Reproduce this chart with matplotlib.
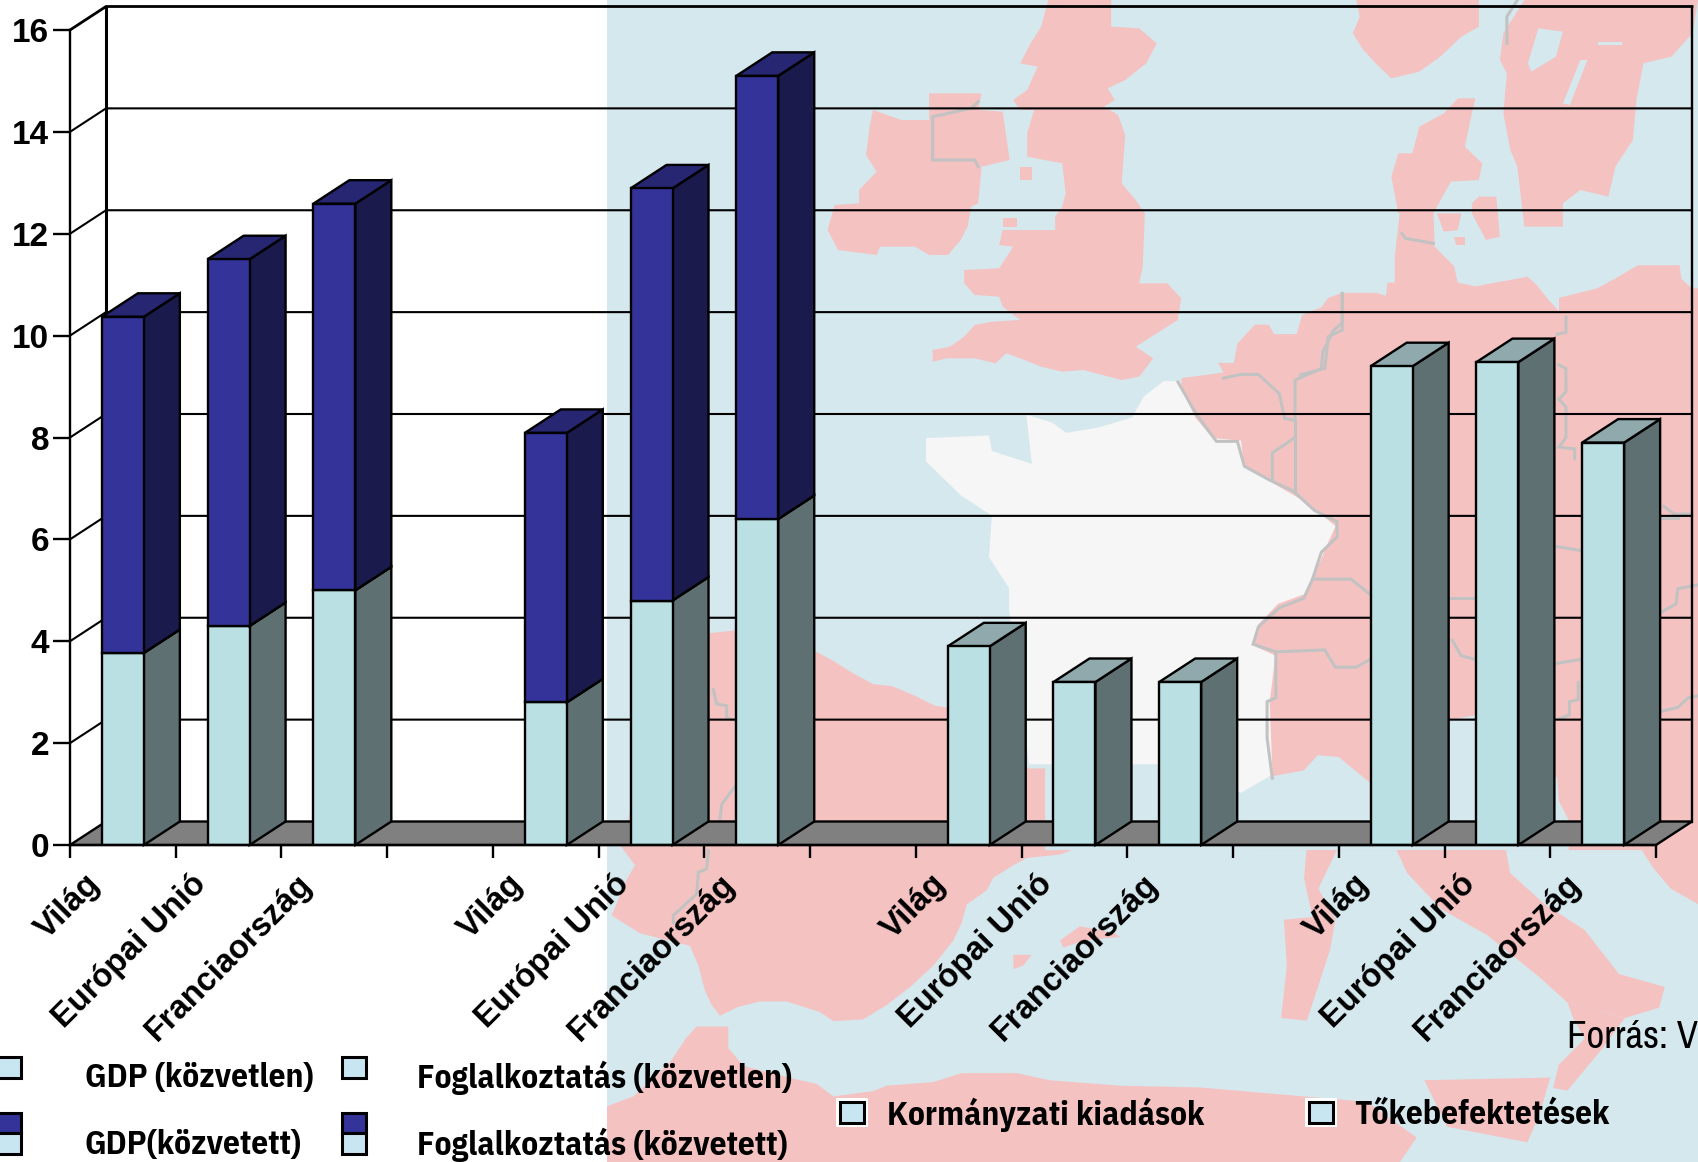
import matplotlib
matplotlib.use("Agg")
import matplotlib.pyplot as plt
from matplotlib import font_manager as fm
from matplotlib.patches import Polygon, Rectangle
from matplotlib.transforms import ScaledTranslation

W, H = 1698, 1162

# data
labels = ["Világ", "Európai Unió", "Franciaország"]
slots = [0, 1, 2, 4, 5, 6, 8, 9, 10, 12, 13, 14]
lower = [3.77, 4.3, 5.0, 2.8, 4.8, 6.4, 3.9, 3.2, 3.2, 9.4, 9.48, 7.9]
upper = [6.6, 7.2, 7.59, 5.29, 8.09, 8.7, 0, 0, 0, 0, 0, 0]

legend_text = [
    ("GDP (közvetlen)", 85, 1078),
    ("GDP(közvetett)", 85, 1145),
    ("Foglalkoztatás (közvetlen)", 417, 1078),
    ("Foglalkoztatás (közvetett)", 417, 1145),
    ("Kormányzati kiadások", 887, 1115),
    ("Tőkebefektetések", 1354, 1115),
]

# colours
SEA = "#D5E8EE"
LAND = "#F5C2C2"
FRANCE = "#F6F6F6"
BORDER = "#C2C2C2"
LIGHT = ("#BAE0E3", "#5F7072", "#8FA9AC")
NAVY = ("#333399", "#1A1A4D", "#262673")

FONT = "Liberation Sans"
# legend type is a narrow sans, fall back to a smaller Liberation if it is missing
installed = {f.name for f in fm.fontManager.ttflist}
LEG_FONT = "IBM Plex Sans Condensed" if "IBM Plex Sans Condensed" in installed else FONT
LEG_SIZE = 24 if LEG_FONT != FONT else 22
SRC_FONT = "Archivo Narrow" if "Archivo Narrow" in installed else FONT
SRC_SIZE = 28 if SRC_FONT != FONT else 22


def z3(pts):
    return [(800 + x / 1.746, 350 + y / 1.931) for x, y in pts]

def z4(pts):
    return [(600 + x / 1.428, y / 3) for x, y in pts]

def z5(pts):
    return [(600 + x / 3, 600 + y / 2.79) for x, y in pts]

def z6(pts):
    return [(1150 + x / 2.861, 250 + y / 2.613) for x, y in pts]


land = [
    z4([(390, 330), (430, 360), (470, 360), (470, 280), (545, 280), (540, 330), (575, 335), (585, 480),
        (545, 500), (540, 610), (530, 620), (525, 680), (515, 720), (497, 765), (470, 765), (450, 740),
        (400, 740), (395, 765), (340, 750), (325, 690), (335, 615), (370, 610), (370, 570), (395, 515),
        (380, 465), (385, 380)]),
    z4([(640, 0), (730, 0), (730, 80), (770, 85), (795, 130), (780, 190), (750, 240), (725, 265), (735, 300),
        (720, 320), (740, 345), (750, 405), (745, 550), (765, 600), (778, 640), (775, 800), (770, 850),
        (810, 850), (830, 895), (825, 960), (795, 1000), (765, 1040), (790, 1075), (770, 1130), (745, 1140),
        (690, 1110), (660, 1115), (630, 1100), (600, 1075), (580, 1060), (565, 1090), (535, 1075), (495, 1075),
        (475, 1085), (475, 1050), (500, 1040), (520, 1010), (535, 975), (560, 965), (600, 960), (575, 920),
        (570, 890), (535, 885), (520, 850), (520, 810), (570, 805), (590, 740), (570, 735), (575, 690),
        (650, 690), (650, 650), (660, 620), (665, 580), (660, 490), (610, 470), (610, 400), (620, 330),
        (600, 330), (590, 300), (610, 270), (625, 200), (600, 190), (615, 130), (630, 80)]),
    z4([(600, 500), (617, 500), (617, 540), (600, 540)]),
    z4([(575, 655), (595, 655), (595, 680), (575, 680)]),
    z4([(1080, 0), (1255, 0), (1255, 80), (1230, 110), (1200, 170), (1170, 215), (1130, 235), (1110, 195),
        (1090, 150), (1075, 100), (1085, 50)]),
    z4([(1320, 0), (1568, 0), (1560, 100), (1530, 170), (1490, 190), (1480, 300), (1475, 420), (1450, 500),
        (1440, 590), (1400, 570), (1375, 610), (1375, 680), (1320, 680), (1310, 500), (1300, 450), (1290, 340),
        (1295, 220), (1285, 180), (1290, 100)]),
    z4([(1225, 295), (1250, 295), (1245, 340), (1235, 440), (1260, 490), (1255, 540), (1215, 545), (1190, 640),
        (1140, 640), (1130, 530), (1140, 460), (1160, 460), (1170, 380), (1205, 340)]),
    z4([(1135, 860), (1135, 770), (1142, 640), (1190, 630), (1192, 740), (1220, 800), (1225, 860)]),
    z4([(1195, 640), (1230, 640), (1225, 690), (1205, 695)]),
    z4([(1245, 610), (1255, 590), (1280, 590), (1285, 710), (1265, 720), (1245, 640)]),
    z4([(1220, 710), (1235, 710), (1235, 735), (1222, 735)]),
    # continent
    z6([(90, 335), (210, 320), (195, 295), (240, 295), (250, 245), (300, 195), (340, 195), (355, 220), (420, 220),
        (435, 170), (490, 150), (510, 125), (550, 112), (650, 112), (675, 120), (680, 85), (730, 85), (820, 40),
        (870, 45), (880, 85), (930, 95), (1080, 70), (1105, 90), (1140, 130), (1170, 160), (1170, 125),
        (1280, 100), (1340, 70), (1395, 40), (1515, 40), (1520, 75), (1550, 100), (1570, 100), (1570, 1568),
        (300, 1568), (300, 1000), (90, 600)]),
    # iberia
    z5([(225, 92), (335, 92), (405, 85), (650, 145), (700, 170), (760, 205), (820, 235), (875, 240), (940, 265),
        (1005, 295), (1040, 300), (1285, 470), (1500, 470), (1520, 620), (1440, 690), (1380, 710), (1280, 720),
        (1240, 740), (1180, 775), (1160, 810), (1100, 850), (1085, 900), (1060, 950), (1000, 1020), (930, 1080),
        (860, 1130), (790, 1170), (700, 1175), (660, 1150), (560, 1120), (480, 1120), (415, 1135), (360, 1160),
        (335, 1130), (315, 1090), (295, 1020), (270, 965), (120, 930), (35, 880), (80, 780), (105, 740),
        (65, 690), (90, 590), (225, 300)]),
    z5([(1240, 990), (1295, 990), (1270, 1020), (1240, 1030)]),
    z5([(1380, 950), (1440, 910), (1545, 930), (1560, 940), (1450, 950), (1390, 970)]),
    # africa
    z5([(0, 1420), (100, 1385), (210, 1290), (260, 1220), (290, 1190), (385, 1190), (385, 1250), (430, 1300),
        (600, 1340), (650, 1350), (700, 1385), (820, 1370), (860, 1355), (1000, 1345), (1085, 1320), (1250, 1320),
        (1350, 1340), (1560, 1355), (1800, 1360), (2300, 1400), (2450, 1500), (2400, 1568), (0, 1568)]),
    # corsica, italy, balkans, sicily
    z3([(885, 960), (940, 960), (905, 1040), (935, 1100), (925, 1160), (885, 1295), (840, 1290), (850, 1190),
        (845, 1100), (895, 1095), (880, 1020)]),
    z3([(1035, 950), (1230, 950), (1240, 1010), (1300, 1070), (1370, 1120), (1430, 1205), (1510, 1230), (1500, 1270),
        (1440, 1290), (1340, 1260), (1290, 1210), (1200, 1130), (1120, 1080), (1060, 1010)]),
    z3([(1340, 1260), (1440, 1290), (1400, 1350), (1340, 1430), (1315, 1425), (1325, 1380), (1370, 1330), (1350, 1290)]),
    z3([(1460, 950), (1568, 950), (1568, 1070), (1520, 1040), (1490, 1000)]),
    z3([(1090, 1410), (1310, 1405), (1290, 1480), (1270, 1530), (1130, 1500)]),
]

water = [
    z4([(1340, 85), (1375, 95), (1365, 170), (1330, 215), (1325, 190)]),
    z4([(1400, 180), (1410, 180), (1385, 315), (1375, 310)]),
    z4([(1425, 125), (1460, 125), (1460, 135), (1425, 135)]),
    z6([(250, 1430), (320, 1380), (440, 1360), (480, 1320), (540, 1325), (640, 1400), (800, 1250), (875, 1225),
        (935, 1215), (1000, 1300), (1100, 1300), (1165, 1380), (1170, 1440), (1198, 1490), (1198, 1568), (-300, 1568),
        (-300, 1340), (0, 1340)]),
]

france = z3([(660, 60), (690, 130), (720, 170), (770, 175), (775, 225), (830, 260), (885, 295), (935, 340), (915, 390),
             (885, 470), (835, 490), (800, 530), (790, 570), (830, 590), (820, 680), (825, 820), (770, 855), (640, 800),
             (400, 800), (365, 500), (365, 460), (330, 400), (335, 320), (280, 280), (220, 215), (220, 170), (330, 165),
             (335, 195), (405, 220), (395, 125), (440, 140), (465, 160), (520, 150), (580, 130), (600, 90), (635, 60)])

borders = [
    z6([(80, 345), (130, 425), (190, 500), (250, 500), (270, 565), (340, 600), (410, 630), (470, 680), (535, 710),
        (535, 750), (490, 790), (465, 860), (440, 910), (370, 935), (310, 985), (295, 1030), (360, 1050), (360, 1170),
        (335, 1180), (335, 1275), (350, 1380)]),
    z6([(210, 335), (260, 325), (310, 325), (370, 375), (385, 440), (415, 445), (415, 340), (490, 310), (495, 265),
        (525, 210), (550, 190), (550, 115)]),
    z6([(415, 445), (415, 630)]),
    z6([(415, 490), (350, 530), (350, 600)]),
    z6([(465, 860), (575, 860), (630, 900)]),
    z6([(860, 910), (930, 910)]),
    z6([(360, 1050), (500, 1045), (530, 1090), (590, 1090), (630, 1070)]),
    z6([(865, 1020), (890, 1060), (930, 1070)]),
    z6([(1190, 175), (1190, 215), (1165, 220)]),
    z6([(1170, 300), (1190, 310), (1190, 370), (1170, 390), (1190, 410), (1190, 490), (1170, 515), (1215, 520), (1215, 545)]),
    z6([(1165, 775), (1230, 785)]),
    z6([(1470, 670), (1500, 690), (1550, 690)]),
    z6([(1465, 700), (1510, 700)]),
    z6([(1465, 945), (1505, 925), (1510, 885), (1568, 875)]),
    z6([(1165, 1080), (1230, 1070)]),
    z6([(1225, 1130), (1225, 1175), (1200, 1180), (1200, 1215), (1170, 1225)]),
    z6([(1465, 1205), (1510, 1195), (1540, 1170), (1568, 1165)]),
    z5([(340, 250), (350, 290), (380, 295), (380, 330), (405, 335)]),
    z5([(405, 520), (365, 570), (360, 610)]),
    z5([(325, 700), (320, 750), (295, 760), (290, 820), (220, 880), (220, 900)]),
    z4([(540, 305), (530, 325), (475, 350), (475, 480), (535, 480), (540, 500)]),
    z4([(1145, 700), (1150, 715), (1190, 730)]),
    z4([(1060, 880), (1060, 990), (1040, 1010), (1035, 1105), (1000, 1125)]),
    z4([(1310, 0), (1295, 50), (1295, 130)]),
]

fig = plt.figure(figsize=(W / 100, H / 100), dpi=100, facecolor="white")

# map only covers the right part of the figure
MAP_LEFT = 607
mp = fig.add_axes([MAP_LEFT / W, 0, (W - MAP_LEFT) / W, 1], zorder=0)
mp.set_xlim(MAP_LEFT, W)
mp.set_ylim(H, 0)
mp.axis("off")
mp.add_patch(Rectangle((MAP_LEFT, 0), W - MAP_LEFT, H, fc=SEA, ec="none"))
for pts in land:
    mp.add_patch(Polygon(pts, fc=LAND, ec="none"))
for pts in water:
    mp.add_patch(Polygon(pts, fc=SEA, ec="none"))
mp.add_patch(Polygon(france, fc=FRANCE, ec="none"))
for pts in borders:
    mp.plot([p[0] for p in pts], [p[1] for p in pts], color=BORDER, lw=2.2, solid_joinstyle="miter")

# chart, front plane of the box
LEFT, RIGHT, BASE, TOP = 70, 1656, 845, 30
ax = fig.add_axes([LEFT / W, 1 - BASE / H, (RIGHT - LEFT) / W, (BASE - TOP) / H], zorder=1)
ax.patch.set_alpha(0)
ax.set_xlim(0, 15)
ax.set_ylim(0, 16)

ddx = 36 / ((RIGHT - LEFT) / 15)
ddy = 23.5 / ((BASE - TOP) / 16)
LW = 1.7

ax.add_patch(Polygon([(0, 0), (15, 0), (15 + ddx, ddy), (ddx, ddy)], fc="#808080", ec="black", lw=LW,
                     clip_on=False, zorder=1))
for v in range(2, 17, 2):
    ax.plot([0, ddx, 15 + ddx], [v, v + ddy, v + ddy], color="black", lw=2.0 if v == 16 else 1.5,
            clip_on=False, zorder=1, solid_joinstyle="miter")
ax.plot([ddx, ddx], [ddy, 16 + ddy], color="black", lw=2.2, clip_on=False, zorder=1)
ax.plot([15 + ddx, 15 + ddx], [ddy, 16 + ddy], color="black", lw=LW, clip_on=False, zorder=1)

bar_w = 0.397


def box(x, y0, y1, cols, z):
    l = x + 0.5 - bar_w / 2
    r = l + bar_w
    ax.bar(l, y1 - y0, width=bar_w, bottom=y0, align="edge", fc=cols[0], ec="black", lw=LW, zorder=z + 0.2)
    ax.add_patch(Polygon([(r, y0), (r + ddx, y0 + ddy), (r + ddx, y1 + ddy), (r, y1)], fc=cols[1], ec="black",
                         lw=LW, zorder=z, clip_on=False))
    ax.add_patch(Polygon([(l, y1), (l + ddx, y1 + ddy), (r + ddx, y1 + ddy), (r, y1)], fc=cols[2], ec="black",
                         lw=LW, zorder=z + 0.1, clip_on=False))


for i, s in enumerate(slots):
    z = 3 + i
    box(s, 0, lower[i], LIGHT, z)
    if upper[i] > 0:
        box(s, lower[i], lower[i] + upper[i], NAVY, z + 0.5)

for side in ["top", "right"]:
    ax.spines[side].set_visible(False)
for side in ["left", "bottom"]:
    ax.spines[side].set_linewidth(LW)
    ax.spines[side].set_zorder(30)

ax.set_yticks(range(0, 17, 2))
ax.set_xticks(range(0, 16))
ax.set_xticklabels([])
ax.tick_params(axis="y", length=12, width=LW, pad=3)
ax.tick_params(axis="x", which="major", length=9.5, width=LW)
for lab in ax.get_yticklabels():
    lab.set_fontfamily(FONT)
    lab.set_fontweight("bold")
    lab.set_fontsize(24)

ax.set_xticks([s + 0.5 for s in slots], minor=True)
ax.set_xticklabels(labels * 4, minor=True, rotation=45, ha="right", va="top", rotation_mode="anchor",
                   fontfamily=FONT, fontweight="bold", fontsize=23.5)
ax.tick_params(axis="x", which="minor", length=0, pad=17)
shift = ScaledTranslation(-0.38, 0, fig.dpi_scale_trans)
for lab in ax.get_xticklabels(minor=True):
    lab.set_transform(lab.get_transform() + shift)

# legend and source line, pixel positions
top = fig.add_axes([0, 0, 1, 1], zorder=2)
top.set_xlim(0, W)
top.set_ylim(H, 0)
top.axis("off")


def swatch(x, y, w, h, color):
    top.add_patch(Rectangle((x, y), w, h, fc=color, ec="black", lw=2.2))


SW = "#C8E6F2"
for x in [-3, 342]:
    swatch(x, 1057, 24, 21, SW)
    swatch(x, 1113, 24, 20, "#333399")
    swatch(x, 1133, 24, 21, SW)
for x in [840, 1309]:
    top.add_patch(Rectangle((x - 4, 1098), 32, 29, fc="white", ec="none"))
    swatch(x, 1102, 24, 21, SW)

for txt, x, y in legend_text:
    top.text(x, y, txt, family=LEG_FONT, fontweight="bold", fontsize=LEG_SIZE, va="center", ha="left")
top.text(1567, 1037, "Forrás: V", family=SRC_FONT, fontsize=SRC_SIZE, va="center", ha="left", clip_on=False)

fig.savefig("out.png", dpi=100)
